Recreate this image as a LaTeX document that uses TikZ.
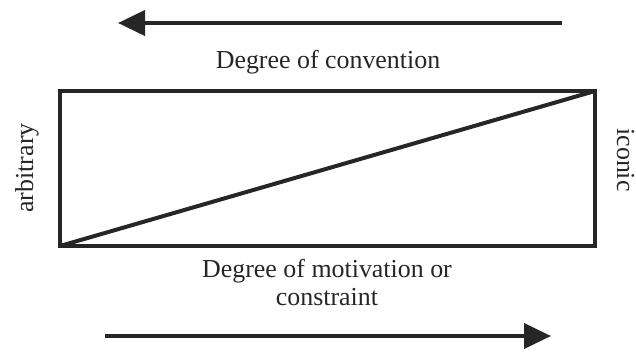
\documentclass[tikz,border=0pt]{standalone}
\usepackage{fontspec}
\setmainfont{Liberation Serif}
\usetikzlibrary{arrows.meta}
\begin{document}
\begin{tikzpicture}[x=1bp,y=-1bp,
  lbl/.style={font=\fontsize{26}{30}\selectfont, inner sep=0pt, text=black!85},
  bigarrow/.style={line width=4bp, draw=black!85, -{Triangle[length=27bp,width=25bp]}},
  frame/.style={line width=4bp, draw=black!85}]
\useasboundingbox (0,0) rectangle (636,351);
% top arrow
\coordinate (ts) at (562,23);
\coordinate (te) at (118,23);
\draw[bigarrow] (ts) -- (te);
\node[lbl, anchor=base] (conv) at (328,68) {Degree of convention};
% box
\coordinate (bl) at (60,246);
\coordinate (tr) at (595,91);
\draw[frame] (bl) rectangle (tr);
\draw[frame, line cap=round] (bl) -- (tr);
% side labels
\node[lbl, rotate=90, anchor=base] (arb) at (33,168) {arbitrary};
\node[lbl, rotate=-90, anchor=base] (ico) at (617,160) {iconic};
% bottom text
\node[lbl, anchor=base] (mot) at (327,277) {Degree of motivation or};
\node[lbl, anchor=base] (con) at (327,305) {constraint};
% bottom arrow
\coordinate (bs) at (105,336);
\coordinate (be) at (551,336);
\draw[bigarrow] (bs) -- (be);
\end{tikzpicture}
\end{document}
